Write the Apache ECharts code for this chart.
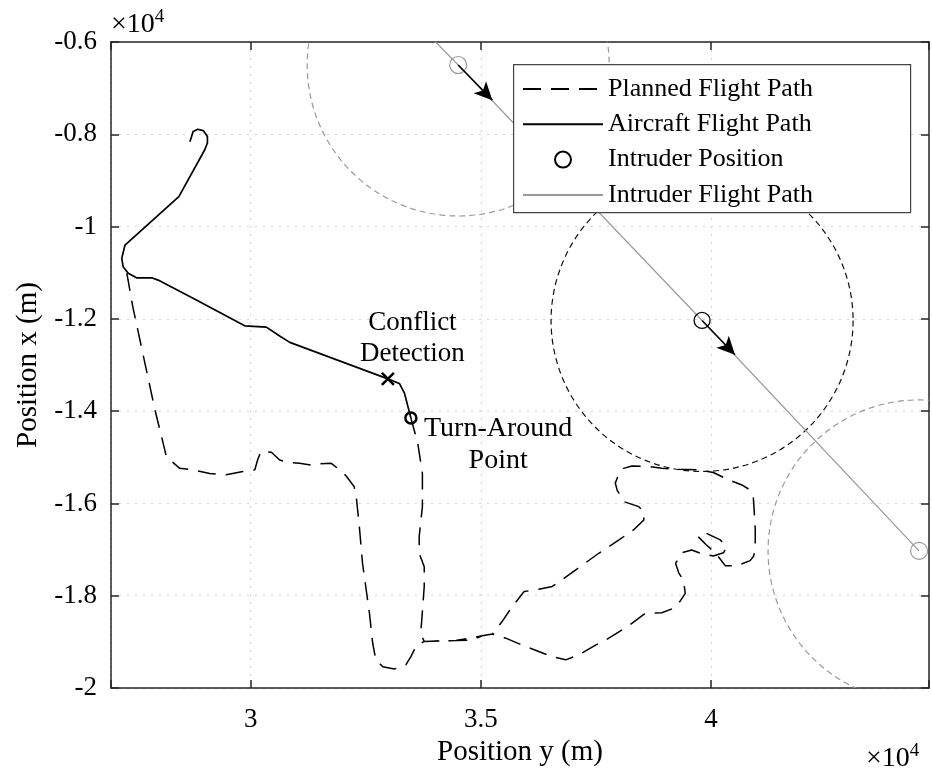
<!DOCTYPE html>
<html style="height: 100%">
<head>
    <meta charset="utf-8">
</head>
<body style="height: 100%; margin: 0">
<div id="container" style="width: 932px; height: 773px"></div>
<script type="text/javascript" src="https://cdn.jsdelivr.net/npm/echarts@6/dist/echarts.min.js"></script>
<script type="text/javascript">
// every point is [position y, position x] in metres (y runs along the horizontal axis)
var plannedPath = [
    [27310, -11010], [27440, -11740], [27920, -13970], [28100, -14700], [28170, -14990],
    [28460, -15240], [28740, -15270], [29110, -15350], [29470, -15380], [29830, -15310],
    [30090, -15270], [30150, -15060], [30220, -14880], [30330, -14880], [30450, -14890],
    [30630, -15060], [30810, -15110], [31060, -15130], [31320, -15170], [31500, -15140],
    [31750, -15130], [31930, -15270], [32070, -15400], [32250, -15640], [32300, -15920],
    [32360, -16500], [32430, -17300], [32580, -18380], [32650, -19030], [32720, -19390],
    [32870, -19540], [33120, -19590], [33370, -19500], [33480, -19320], [33590, -19100],
    [33770, -18990], [34100, -18980], [34460, -18970], [34820, -18960], [35030, -18870],
    [35250, -18830], [35540, -18920], [35970, -19100], [36550, -19320], [36840, -19390],
    [37130, -19280], [37490, -19070], [37710, -18960], [38070, -18740], [38280, -18600],
    [38570, -18380], [38930, -18370], [39190, -18270], [39300, -18160], [39440, -17950],
    [39400, -17660], [39300, -17510], [39230, -17300], [39360, -17070], [39580, -17010],
    [39770, -17080], [40050, -17140], [40270, -17070], [40340, -16940], [40200, -16790],
    [39840, -16620], [39730, -16730], [39900, -16900], [40090, -17070], [40210, -17220],
    [40310, -17350], [40560, -17350], [40850, -17240], [40920, -17150], [40960, -17010],
    [40960, -16570], [40940, -16210], [40920, -15890], [40850, -15710], [40670, -15600],
    [40380, -15490], [40050, -15330], [39730, -15270], [39300, -15260], [38930, -15240],
    [38650, -15200], [38280, -15190], [38100, -15240], [38000, -15350], [37920, -15560],
    [37960, -15710], [38100, -15960], [38430, -16070], [38540, -16180], [38540, -16360],
    [38320, -16570], [38000, -16790], [37560, -17080], [36910, -17550], [36550, -17800],
    [36260, -17860], [35940, -17910], [35680, -18240], [35460, -18560], [35250, -18830],
    [35030, -18870], [34460, -18970], [34100, -18980], [33770, -18990], [33700, -18850],
    [33700, -18740], [33770, -17800], [33770, -17370], [33660, -17080], [33660, -16720],
    [33730, -16070], [33730, -15350], [33630, -14700], [33480, -14150]
];
var aircraftPath = [
    [28680, -8160], [28750, -7940], [28850, -7890], [28970, -7920], [29060, -8050],
    [29060, -8190], [29000, -8340], [28440, -9350], [27270, -10400], [27200, -10690],
    [27230, -10870], [27340, -11010], [27520, -11110], [27850, -11110], [27990, -11160],
    [28820, -11590], [29870, -12150], [30340, -12180], [30630, -12370], [30850, -12510],
    [32980, -13300], [33230, -13400], [33340, -13610], [33480, -14150]
];
var intruderTrack = [[33880, -5860], [34507, -6498], [39805, -12035], [44518, -17029]];
var intruderOther = [[34507, -6498], [44518, -17029]];
var intruderNow = [[39805, -12035]];
var intruderHeading = [
    [[34507, -6498], [35250, -7260]],
    [[39805, -12035], [40520, -12780]]
];
var zoneRadius = 3280;
var conflictPoint = [[32980, -13300]];
var turnPoint = [[33480, -14150]];
var xTickValues = [30000, 35000, 40000];

var serif = 'Liberation Serif';
var axisColor = '#262626';

var dom = document.getElementById('container');
var myChart = echarts.init(dom);

function zoneItem(color) {
    return function (params, api) {
        var c = api.coord([api.value(0), api.value(1)]);
        var r = api.size([zoneRadius, 0])[0];
        return {
            type: 'circle',
            shape: {cx: c[0], cy: c[1], r: r},
            style: {fill: 'none', stroke: color, lineWidth: 1.2, lineDash: [6, 4]}
        };
    };
}

var baseX = {
    type: 'value',
    min: 26966,
    max: 44734,
    splitNumber: 3,
    axisLine: {lineStyle: {color: axisColor, width: 1.5}},
    axisTick: {inside: true, length: 8, lineStyle: {color: axisColor, width: 1.5}}
};
var baseY = {
    type: 'value',
    min: -20000,
    max: -6000,
    interval: 2000,
    axisLine: {lineStyle: {color: axisColor, width: 1.5}},
    axisTick: {inside: true, length: 8, lineStyle: {color: axisColor, width: 1.5}}
};

var sciLabel = {
    text: '{a|×10}{b|4}',
    rich: {
        a: {fontFamily: serif, fontSize: 28, lineHeight: 34, fill: '#000'},
        b: {fontFamily: serif, fontSize: 19, verticalAlign: 'top', fill: '#000'}
    }
};

option = {
    animation: false,
    backgroundColor: '#fff',
    grid: {left: 111, top: 42, right: 1, bottom: 85},
    xAxis: [
        Object.assign({}, baseX, {
            position: 'bottom',
            name: 'Position y (m)',
            nameLocation: 'middle',
            nameGap: 50,
            nameTextStyle: {fontFamily: serif, fontSize: 29, color: '#000'},
            axisLabel: {
                margin: 18, fontFamily: serif, fontSize: 27, color: '#000',
                formatter: function (v) {
                    return xTickValues.indexOf(v) >= 0 ? String(v / 1e4) : '';
                }
            },
            splitLine: {show: true, lineStyle: {type: [2, 6], color: '#d4d4d4'}}
        }),
        Object.assign({}, baseX, {
            position: 'top',
            axisLabel: {show: false},
            splitLine: {show: false}
        })
    ],
    yAxis: [
        Object.assign({}, baseY, {
            position: 'left',
            name: 'Position x (m)',
            nameLocation: 'middle',
            nameGap: 64,
            nameRotate: 90,
            nameTextStyle: {fontFamily: serif, fontSize: 29, color: '#000'},
            axisLabel: {
                margin: 14, fontFamily: serif, fontSize: 27, color: '#000',
                formatter: function (v) { return String(+(v / 1e4).toFixed(1)); }
            },
            splitLine: {show: true, lineStyle: {type: [2, 6], color: '#d4d4d4'}}
        }),
        Object.assign({}, baseY, {
            position: 'right',
            axisLabel: {show: false},
            splitLine: {show: false}
        })
    ],
    legend: {
        data: [
            {name: 'Planned Flight Path', itemStyle: {opacity: 0}},
            {name: 'Aircraft Flight Path', itemStyle: {opacity: 0}},
            {name: 'Intruder Position'},
            {name: 'Intruder Flight Path', itemStyle: {opacity: 0}}
        ],
        orient: 'vertical',
        left: 513,
        top: 64,
        padding: [12, 10, 9, 9],
        itemWidth: 80,
        itemHeight: 16,
        itemGap: 9.3,
        selectedMode: false,
        z: 10,
        textStyle: {fontFamily: serif, fontSize: 26, color: '#000'}
    },
    graphic: [
        {
            type: 'rect', left: 513, top: 64, z: 8,
            shape: {width: 397, height: 148},
            style: {fill: '#fff', stroke: '#444', lineWidth: 1.2}
        },
        {type: 'text', left: 111, top: 8, z: 8, style: sciLabel},
        {type: 'text', left: 866, top: 742, z: 8, style: sciLabel}
    ],
    series: [
        {
            type: 'custom',
            name: 'zones other',
            clip: true,
            renderItem: zoneItem('#9a9a9a'),
            data: intruderOther,
            z: 1
        },
        {
            type: 'custom',
            name: 'zone now',
            clip: true,
            renderItem: zoneItem('#111'),
            data: intruderNow,
            z: 1
        },
        {
            name: 'Intruder Flight Path',
            type: 'line',
            data: intruderTrack,
            symbol: 'none',
            lineStyle: {color: '#9a9a9a', width: 1.2},
            itemStyle: {color: '#9a9a9a'},
            z: 2
        },
        {
            name: 'intruder other',
            type: 'scatter',
            data: intruderOther,
            symbol: 'circle',
            symbolSize: 17,
            itemStyle: {color: 'rgba(0,0,0,0)', borderColor: '#9a9a9a', borderWidth: 1.2, opacity: 1},
            z: 3
        },
        {
            name: 'Planned Flight Path',
            type: 'line',
            data: plannedPath,
            symbol: 'none',
            lineStyle: {color: '#000', width: 1.5, type: [18, 10]},
            itemStyle: {color: '#000'},
            z: 3
        },
        {
            name: 'Aircraft Flight Path',
            type: 'line',
            data: aircraftPath,
            symbol: 'none',
            lineStyle: {color: '#000', width: 1.7},
            itemStyle: {color: '#000'},
            z: 3
        },
        {
            name: 'Intruder Position',
            type: 'scatter',
            data: intruderNow,
            symbol: 'circle',
            symbolSize: 16,
            itemStyle: {color: 'rgba(0,0,0,0)', borderColor: '#000', borderWidth: 1.3, opacity: 1},
            z: 4,
            markLine: {
                silent: true,
                symbol: ['none', 'arrow'],
                symbolSize: [13, 18],
                label: {show: false},
                lineStyle: {color: '#000', width: 1.5, type: 'solid'},
                data: intruderHeading.map(function (seg) {
                    return [{coord: seg[0]}, {coord: seg[1]}];
                })
            }
        },
        {
            name: 'conflict',
            type: 'scatter',
            data: conflictPoint,
            symbol: 'path://M0,0L10,10M10,0L0,10',
            symbolSize: 12,
            itemStyle: {color: 'none', borderColor: '#000', borderWidth: 2.5, opacity: 1},
            label: {
                show: true,
                position: [33, -63],
                align: 'center',
                verticalAlign: 'top',
                formatter: 'Conflict\nDetection',
                fontFamily: serif, fontSize: 27, lineHeight: 31, color: '#000',
                textBorderWidth: 0
            },
            z: 5
        },
        {
            name: 'turn',
            type: 'scatter',
            data: turnPoint,
            symbol: 'circle',
            symbolSize: 11,
            itemStyle: {color: 'rgba(0,0,0,0)', borderColor: '#000', borderWidth: 2.5, opacity: 1},
            label: {
                show: true,
                position: [94, 1],
                align: 'center',
                verticalAlign: 'top',
                formatter: 'Turn-Around\nPoint',
                fontFamily: serif, fontSize: 28, lineHeight: 32, color: '#000',
                textBorderWidth: 0
            },
            z: 5
        }
    ]
};

if (option && typeof option === 'object') {
    myChart.setOption(option, true);
}
</script>
</body>
</html>
